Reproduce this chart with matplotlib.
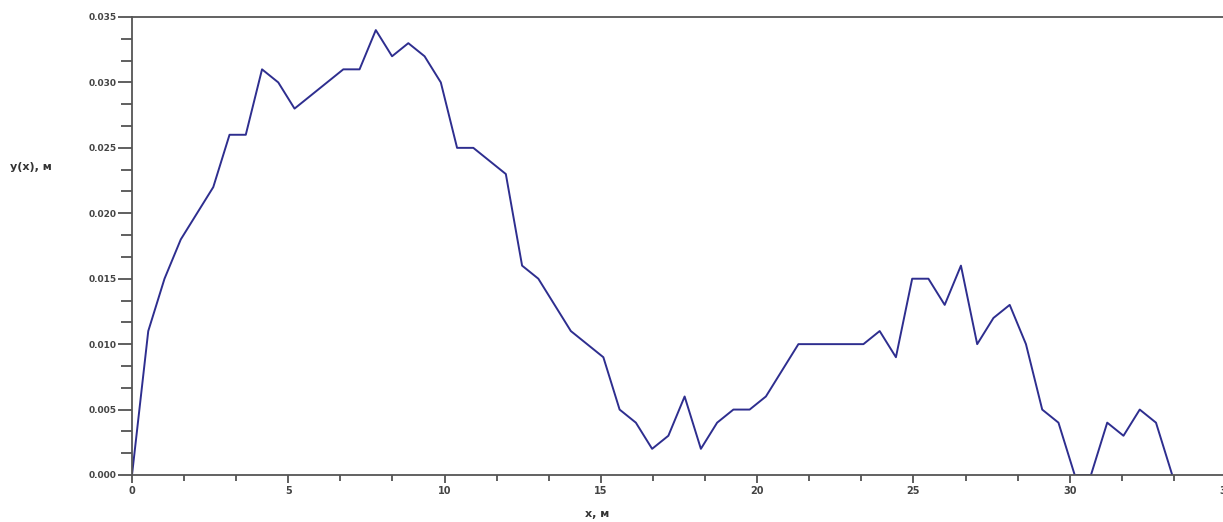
import matplotlib
matplotlib.use("Agg")
import matplotlib.pyplot as plt
from matplotlib.ticker import MultipleLocator, FormatStrFormatter

# data (x in m, y in m)
x = [0.00, 0.52, 1.04, 1.56, 2.08, 2.60, 3.12, 3.64, 4.16, 4.68,
     5.20, 5.72, 6.24, 6.76, 7.28, 7.80, 8.32, 8.84, 9.36, 9.88,
     10.40, 10.92, 11.44, 11.96, 12.48, 13.00, 13.52, 14.04, 14.56, 15.08,
     15.60, 16.12, 16.64, 17.16, 17.68, 18.20, 18.72, 19.24, 19.76, 20.28,
     20.80, 21.32, 21.84, 22.36, 22.88, 23.40, 23.92, 24.44, 24.96, 25.48,
     26.00, 26.52, 27.04, 27.56, 28.08, 28.60, 29.12, 29.64, 30.16, 30.68,
     31.20, 31.72, 32.24, 32.76, 33.28]
y = [0.000, 0.011, 0.015, 0.018, 0.020, 0.022, 0.026, 0.026, 0.031, 0.030,
     0.028, 0.029, 0.030, 0.031, 0.031, 0.034, 0.032, 0.033, 0.032, 0.030,
     0.025, 0.025, 0.024, 0.023, 0.016, 0.015, 0.013, 0.011, 0.010, 0.009,
     0.005, 0.004, 0.002, 0.003, 0.006, 0.002, 0.004, 0.005, 0.005, 0.006,
     0.008, 0.010, 0.010, 0.010, 0.010, 0.010, 0.011, 0.009, 0.015, 0.015,
     0.013, 0.016, 0.010, 0.012, 0.013, 0.010, 0.005, 0.004, 0.000, 0.000,
     0.004, 0.003, 0.005, 0.004, 0.000]

fig = plt.figure(figsize=(12.23, 5.22), dpi=100)
ax = fig.add_axes([132/1223, 47/522, 1094/1223, 458/522])

ax.plot(x, y, color="#2e2e8f", lw=1.4)

ax.set_xlim(0, 35)
ax.set_ylim(0, 0.035)
ax.xaxis.set_major_locator(MultipleLocator(5))
ax.xaxis.set_minor_locator(MultipleLocator(5/3))
ax.yaxis.set_major_locator(MultipleLocator(0.005))
ax.yaxis.set_minor_locator(MultipleLocator(0.005/3))
ax.yaxis.set_major_formatter(FormatStrFormatter("%.3f"))

for s in ax.spines.values():
    s.set_color("#555555")
    s.set_linewidth(1.3)

ax.tick_params(axis="y", which="major", direction="out", length=10, width=1.2,
               color="#444444", labelsize=6.5, labelcolor="#444444", pad=1)
ax.tick_params(axis="y", which="minor", direction="out", length=8, width=1.2,
               color="#444444")
ax.tick_params(axis="x", which="major", direction="out", length=6, width=1.2,
               color="#444444", labelsize=7, labelcolor="#444444", pad=2)
ax.tick_params(axis="x", which="minor", direction="out", length=4, width=1.2,
               color="#444444")
for lab in ax.get_xticklabels() + ax.get_yticklabels():
    lab.set_fontweight("bold")

fig.text(10/1223, 1 - 167/522, "y(x), м", fontsize=8, fontweight="bold",
         color="#333333", ha="left", va="center")
fig.text(597/1223, 1 - 514/522, "x, м", fontsize=8, fontweight="bold",
         color="#333333", ha="center", va="center")

fig.savefig("out.png", dpi=100)
